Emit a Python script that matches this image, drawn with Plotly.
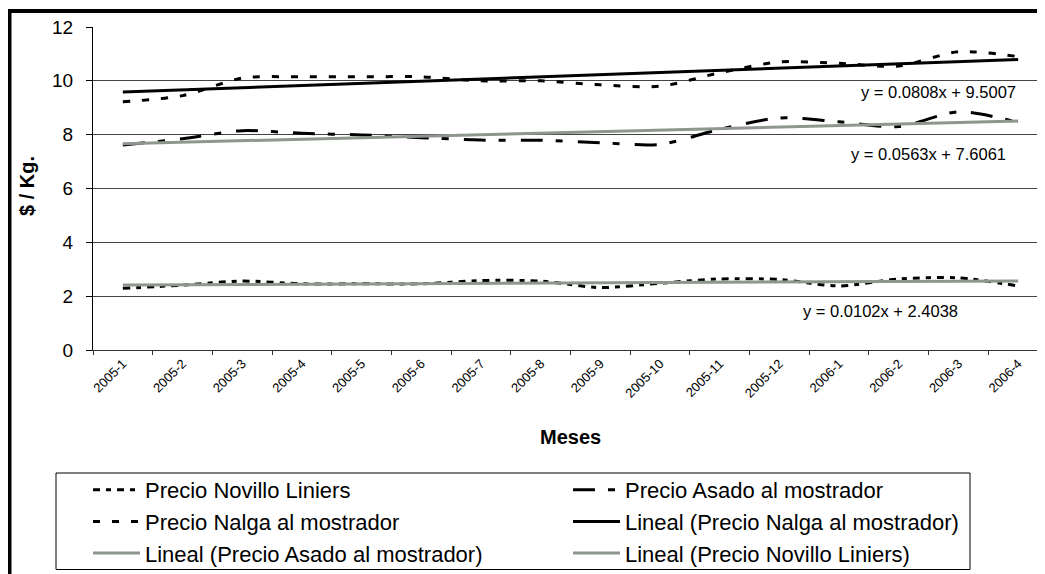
import plotly.graph_objects as go

# ---------------- data ----------------
months = ["2005-1", "2005-2", "2005-3", "2005-4", "2005-5", "2005-6", "2005-7", "2005-8",
          "2005-9", "2005-10", "2005-11", "2005-12", "2006-1", "2006-2", "2006-3", "2006-4"]

novillo_liniers = [2.29, 2.41, 2.56, 2.46, 2.46, 2.46, 2.58, 2.56,
                   2.32, 2.48, 2.64, 2.62, 2.38, 2.64, 2.68, 2.38]
asado_mostrador = [7.62, 7.85, 8.15, 8.05, 7.99, 7.89, 7.80, 7.79,
                   7.70, 7.64, 8.20, 8.62, 8.48, 8.30, 8.85, 8.45]
nalga_mostrador = [9.22, 9.45, 10.10, 10.15, 10.15, 10.15, 10.00, 10.00,
                   9.85, 9.80, 10.30, 10.70, 10.65, 10.55, 11.08, 10.90]

# linear trend coefficients as printed on the chart
trend_slope = {"nalga": 0.0808, "asado": 0.0563, "novillo": 0.0102}
trend_intercept = {"nalga": 9.5007, "asado": 7.6061, "novillo": 2.4038}

y_ticks = [0, 2, 4, 6, 8, 10, 12]


def trend(key):
    return [trend_intercept[key] + trend_slope[key] * (i + 1) for i in range(len(months))]


FONT = "Arial, Liberation Sans, sans-serif"
GRAY = "#8E968E"

fig = go.Figure()
fig.add_trace(go.Scatter(x=months, y=novillo_liniers, name="Precio Novillo Liniers",
                         mode="lines", line=dict(color="black", width=3, dash="7px,6px,5px,6px",
                                                 shape="spline", smoothing=0.8)))
fig.add_trace(go.Scatter(x=months, y=asado_mostrador, name="Precio Asado al mostrador",
                         mode="lines", line=dict(color="black", width=3, dash="22px,13px,7px,15px",
                                                 shape="spline", smoothing=0.8)))
fig.add_trace(go.Scatter(x=months, y=nalga_mostrador, name="Precio Nalga al mostrador",
                         mode="lines", line=dict(color="black", width=3, dash="7px,12px",
                                                 shape="spline", smoothing=0.8)))
fig.add_trace(go.Scatter(x=months, y=trend("nalga"), name="Lineal (Precio Nalga al mostrador)",
                         mode="lines", line=dict(color="black", width=3)))
fig.add_trace(go.Scatter(x=months, y=trend("asado"), name="Lineal (Precio Asado al mostrador)",
                         mode="lines", line=dict(color=GRAY, width=3)))
fig.add_trace(go.Scatter(x=months, y=trend("novillo"), name="Lineal (Precio Novillo Liniers)",
                         mode="lines", line=dict(color=GRAY, width=3)))

# page body has an 8px margin: figure coordinates = screen coordinates - 8
OFF = 8
W, H = 1045, 574
L, R, T, B = 93 - OFF, OFF, 27 - OFF, H - (350 - OFF)
PW, PH = W - L - R, H - T - B


def px(xs):
    return (xs - OFF - L) / PW


def py(ys):
    return (H - B - (ys - OFF)) / PH


eqs = [("y = 0.0808x + 9.5007", 938, 92),
       ("y = 0.0563x + 7.6061", 928, 154),
       ("y = 0.0102x + 2.4038", 880, 311)]
annotations = []
for txt, xx, yy in eqs:
    annotations.append(dict(text=txt, x=px(xx), y=py(yy), xref="paper", yref="paper",
                            showarrow=False, xanchor="center", yanchor="middle",
                            font=dict(family=FONT, size=16.5, color="black")))
annotations.append(dict(text="<b>$ / Kg.</b>", x=px(27), y=py(186), xref="paper", yref="paper",
                        showarrow=False, textangle=-90, xanchor="center", yanchor="middle",
                        font=dict(family=FONT, size=20, color="black")))
annotations.append(dict(text="<b>Meses</b>", x=px(570), y=py(437), xref="paper", yref="paper",
                        showarrow=False, xanchor="center", yanchor="middle",
                        font=dict(family=FONT, size=20, color="black")))

shapes = [
    # outer chart frame (top and left visible)
    dict(type="line", xref="paper", yref="paper", x0=px(9.5), x1=px(1100), y0=py(11), y1=py(11),
         line=dict(color="black", width=4)),
    dict(type="line", xref="paper", yref="paper", x0=px(9.5), x1=px(9.5), y0=py(9), y1=py(700),
         line=dict(color="black", width=4)),
    # legend box
    dict(type="rect", xref="paper", yref="paper", x0=px(56), x1=px(970), y0=py(473), y1=py(569.5),
         line=dict(color="black", width=1), fillcolor="rgba(0,0,0,0)"),
]

fig.update_layout(
    width=W, height=H,
    margin=dict(l=L, r=R, t=T, b=B, autoexpand=False),
    paper_bgcolor="white", plot_bgcolor="white",
    font=dict(family=FONT, color="black"),
    showlegend=True,
    legend=dict(orientation="h", x=px(88), y=py(469), xanchor="left", yanchor="top",
                entrywidth=418, entrywidthmode="pixels", itemwidth=47,
                borderwidth=0, bgcolor="rgba(0,0,0,0)",
                font=dict(family=FONT, size=22, color="black"), traceorder="normal"),
    annotations=annotations,
    shapes=shapes,
    xaxis=dict(type="category", range=[-0.5, 15.45], showgrid=False, zeroline=False,
               showline=True, linecolor="#333333", linewidth=1,
               ticks="outside", tickson="boundaries", ticklen=4, tickcolor="#333333",
               tickangle=-45, tickfont=dict(family=FONT, size=13, color="black"),
               automargin=False),
    yaxis=dict(range=[0, 12], tickvals=y_ticks, showgrid=True, gridcolor="#444444", gridwidth=1,
               zeroline=False, showline=True, linecolor="black", linewidth=1,
               ticks="outside", ticklen=6, tickcolor="black", ticklabelstandoff=9,
               tickfont=dict(family=FONT, size=19, color="black"), automargin=False),
)

fig.write_html("out.html")
